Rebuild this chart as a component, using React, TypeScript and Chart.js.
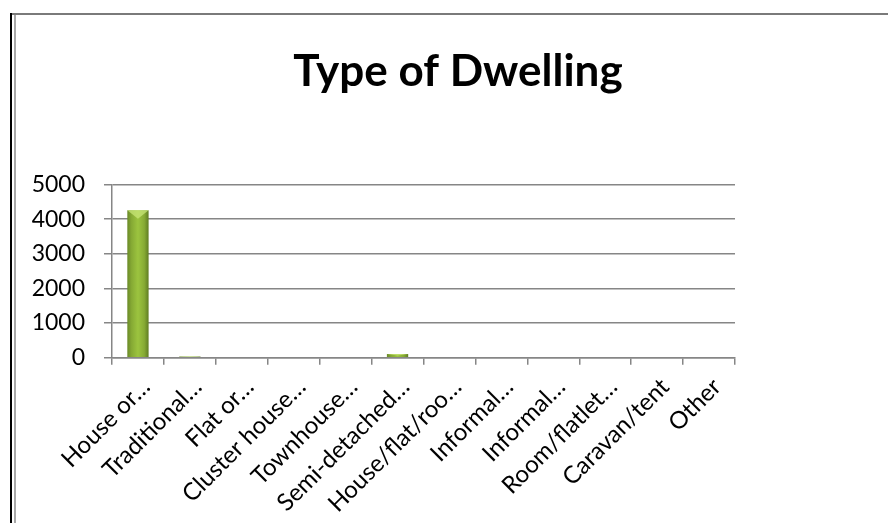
import React, { useEffect, useRef } from "react";
import { Chart, registerables } from "chart.js";

Chart.register(...registerables);

// Dwelling counts by type
const TITLE = "Type of Dwelling";
const categories = [
  "House or…",
  "Traditional…",
  "Flat or…",
  "Cluster house…",
  "Townhouse…",
  "Semi-detached…",
  "House/flat/roo…",
  "Informal…",
  "Informal…",
  "Room/flatlet…",
  "Caravan/tent",
  "Other",
];
const dwellings = [4260, 35, 0, 0, 0, 110, 0, 0, 0, 0, 0, 0];
const yTicks = [0, 1000, 2000, 3000, 4000, 5000];

const W = 888;
const H = 523;
const BAR_PCT = 0.41;
const FONT = "Lato, 'Open Sans', sans-serif";

// Outer frame of the chart sheet
const framePlugin = {
  id: "frame",
  beforeDraw(chart: any) {
    const ctx = chart.ctx;
    ctx.save();
    ctx.fillStyle = "#ffffff";
    ctx.fillRect(0, 0, W, H);
    ctx.fillStyle = "#000000";
    ctx.fillRect(10, 13, 2, H - 13);
    ctx.fillStyle = "#7a7a7a";
    ctx.fillRect(12, 13, W - 12, 2);
    ctx.fillStyle = "#a8a8a8";
    ctx.fillRect(14, 15, 2, H - 15);
    ctx.restore();
  },
  afterDraw(chart: any) {
    const ctx = chart.ctx;
    ctx.save();
    ctx.fillStyle = "#000000";
    ctx.font = `bold 44px ${FONT}`;
    ctx.textAlign = "center";
    ctx.textBaseline = "middle";
    ctx.fillText(TITLE, 458, 72);
    ctx.restore();
  },
};

// Lighter bevel on the top of each bar
const bevelPlugin = {
  id: "bevel",
  afterDatasetsDraw(chart: any) {
    const ctx = chart.ctx;
    const meta = chart.getDatasetMeta(0);
    ctx.save();
    meta.data.forEach((el: any) => {
      const { x, y, base, width } = el.getProps(["x", "y", "base", "width"], true);
      const h = base - y;
      if (!(h >= 3)) return;
      const l = x - width / 2;
      const r = x + width / 2;
      const d = Math.min(width * 0.4, h / 2);
      ctx.fillStyle = "rgba(200,230,120,0.75)";
      ctx.beginPath();
      ctx.moveTo(l, y);
      ctx.lineTo(r, y);
      ctx.lineTo(x, y + d);
      ctx.closePath();
      ctx.fill();
    });
    ctx.restore();
  },
};

function barFill(c: any) {
  const chart = c.chart;
  const xs = chart.scales && chart.scales.x;
  if (!xs || c.dataIndex === undefined) return "#8db33a";
  const cx = xs.getPixelForValue(c.dataIndex);
  const bw = (xs.width / categories.length) * BAR_PCT;
  if (!isFinite(cx) || !isFinite(bw) || bw <= 0) return "#8db33a";
  const g = chart.ctx.createLinearGradient(cx - bw / 2, 0, cx + bw / 2, 0);
  g.addColorStop(0, "#6a8a28");
  g.addColorStop(0.2, "#86aa34");
  g.addColorStop(0.5, "#9cc43f");
  g.addColorStop(0.8, "#86aa34");
  g.addColorStop(1, "#5f7c22");
  return g;
}

export default function App() {
  const ref = useRef<HTMLCanvasElement>(null);

  useEffect(() => {
    const canvas = ref.current;
    if (!canvas) return;
    const chart = new Chart(canvas, {
      type: "bar",
      data: {
        labels: categories,
        datasets: [
          {
            data: dwellings,
            backgroundColor: barFill as any,
            borderWidth: 0,
            barPercentage: BAR_PCT,
            categoryPercentage: 1,
          },
        ],
      },
      options: {
        responsive: false,
        animation: false,
        events: [],
        layout: { padding: { top: 184.5, left: 20, right: W - 735, bottom: 0 } },
        plugins: {
          legend: { display: false },
          title: { display: false },
          tooltip: { enabled: false },
        },
        scales: {
          x: {
            grid: {
              offset: true,
              drawOnChartArea: false,
              drawTicks: true,
              tickLength: 7,
              color: "#868686",
              lineWidth: 1.5,
            },
            border: { color: "#868686", width: 1.5 },
            ticks: {
              autoSkip: false,
              minRotation: 45,
              maxRotation: 45,
              padding: 8,
              labelOffset: 8,
              color: "#000000",
              font: { family: FONT, size: 24 },
            },
            afterFit(scale: any) {
              scale.height = H - 357.7;
            },
          },
          y: {
            min: 0,
            max: 5000,
            afterBuildTicks(scale: any) {
              scale.ticks = yTicks.map((v) => ({ value: v }));
            },
            grid: {
              drawTicks: true,
              tickLength: 8,
              color: "#868686",
              lineWidth: 1.5,
            },
            border: { color: "#868686", width: 1.5 },
            ticks: {
              padding: 19,
              color: "#000000",
              font: { family: FONT, size: 23 },
              callback: (v: any) => String(v),
            },
            afterFit(scale: any) {
              scale.width = 112 - 20;
            },
          },
        },
      },
      plugins: [framePlugin, bevelPlugin],
    });
    chart.update();
    return () => chart.destroy();
  }, []);

  return (
    <div style={{ position: "fixed", left: 0, top: 0, width: W, height: H, overflow: "hidden", background: "#fff" }}>
      <canvas ref={ref} width={W} height={H} style={{ width: W, height: H, display: "block" }} />
    </div>
  );
}
